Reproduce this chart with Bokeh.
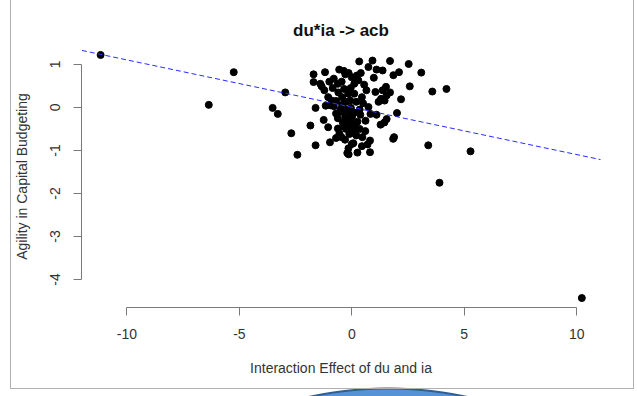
from bokeh.plotting import figure
from bokeh.models import FixedTicker, Slope
from bokeh.embed import file_html
from bokeh.resources import INLINE

# ---- data ----
interaction = [-11.17, -5.25, -6.36, -2.96, -3.52, -3.29, -2.69, -2.42, -1.84, -1.61,
               -1.61, 3.40, 5.28, 3.90, 10.23, 4.21, 3.58, 3.09, 2.58, 2.53,
               2.19, 2.01, 1.84, 1.88, 1.70, 2.10, 1.85, 0.92, 0.33, 0.74,
               1.10, 1.37, 0.98, 0.81, 0.25, -0.14, -0.20, -0.97, 0.07, 0.70,
               0.47, 0.81, -0.70, -0.46, -0.62, -1.05, -1.25, -1.70, -1.19, -1.70,
               -1.34, -1.22, -1.05, -0.89, -1.16, -0.80, -0.56, -0.29, -0.14, -0.80,
               -0.62, 0.22, 0.29, 0.11, 0.55, 0.65, 0.45, 0.11, -0.16, -0.34,
               -0.43, -0.25, -0.07, 0.20, 0.74, 0.83, 0.61, 1.10, 1.28, 1.55,
               1.46, 1.19, 1.55, 1.37, 1.52, 1.05, -0.46, -0.29, -0.16, -0.04,
               0.07, -0.11, -0.34, -0.62, -0.70, 0.02, 0.25, 0.38, -0.43, -0.04,
               -0.50, -0.30, -0.10, 0.10, -0.20, 0.00, -0.40, 0.15, -0.25, -0.05,
               0.20, -0.30, 0.00, -0.15, 0.35, 0.45, -0.55, -0.85, -1.00, -0.60,
               -0.70, -0.95, -1.40, -0.45, 0.00, 0.40, 0.50, 0.35, 1.30, 1.70,
               1.45, 0.60, -0.35, -0.05]
agility = [1.22, 0.82, 0.06, 0.35, -0.01, -0.15, -0.60, -1.10, -0.42, -0.88,
           -0.01, -0.88, -1.02, -1.75, -4.43, 0.43, 0.37, 0.81, 0.49, 1.01,
           0.19, -0.13, -0.73, -0.69, 1.08, 0.82, 0.75, 1.09, 1.07, 0.94,
           0.88, 0.86, 0.69, -1.04, -1.05, -1.09, -1.06, -0.81, -0.83, -0.86,
           -0.69, -0.77, -0.71, -0.69, -0.49, -0.46, -0.29, 0.77, 0.82, 0.59,
           0.49, 0.40, 0.24, 0.16, 0.04, 0.03, 0.88, 0.77, 0.80, 0.67,
           0.55, 0.74, 0.63, 0.55, 0.53, 0.40, 0.24, 0.32, 0.32, 0.43,
           0.24, 0.13, 0.16, 0.13, 0.01, -0.15, -0.31, -0.17, -0.40, -0.27,
           0.16, 0.13, 0.28, 0.40, 0.48, 0.36, -0.10, -0.22, -0.34, -0.45,
           -0.55, -0.62, -0.45, -0.25, -0.14, -0.20, -0.33, -0.17, 0.06, -0.01,
           -0.05, -0.05, -0.10, -0.12, -0.30, -0.35, -0.35, -0.45, -0.50, -0.60,
           -0.65, -0.75, -0.85, -0.95, -0.50, -0.90, -0.60, 0.45, 0.60, 0.35,
           0.15, 0.05, 0.55, 0.60, 0.70, 0.80, 0.10, -0.05, 0.20, 0.35,
           -0.35, -0.55, 0.85, 0.45]
fit_intercept = 0.005
fit_slope = -0.11
x_ticks = [-10, -5, 0, 5, 10]
y_ticks = [-4, -3, -2, -1, 0, 1]
title_text = "du*ia -> acb"
x_label = "Interaction Effect of du and ia"
y_label = "Agility in Capital Budgeting"

FONT = "Liberation Sans"
AXIS_COL = "#7a7a7a"
TEXT_COL = "#333333"

p = figure(width=637, height=396, output_backend="svg", toolbar_location=None,
           x_range=(-12.02, 11.06), y_range=(-4.65, 1.44),
           min_border_left=81, min_border_right=37, min_border_top=45,
           min_border_bottom=89, title=title_text)
p.outline_line_color = None
p.background_fill_color = None
p.border_fill_color = None
p.grid.visible = False

# slide decoration behind the chart: frame edges and part of a blue disc
p.styles = {
    "background": (
        "linear-gradient(#b0b0b0,#b0b0b0) 10px 0px / 1px 389px no-repeat, "
        "linear-gradient(#b0b0b0,#b0b0b0) 633px 0px / 1px 389px no-repeat, "
        "linear-gradient(#b0b0b0,#b0b0b0) 10px 388px / 624px 1px no-repeat, "
        "radial-gradient(circle 374px at 388px 761px, #5592d6 371px, #2f5d95 372px, "
        "#2f5d95 373px, rgba(255,255,255,0) 374px) 0px 0px / 637px 396px no-repeat, "
        "#ffffff"
    )
}

p.title.align = "center"
p.title.text_font = FONT
p.title.text_font_size = "17px"
p.title.text_font_style = "bold"
p.title.text_color = "#111111"
p.title.standoff = 11

for ax, ticks in ((p.xaxis[0], x_ticks), (p.yaxis[0], y_ticks)):
    ax.ticker = FixedTicker(ticks=ticks)
    ax.major_label_overrides = {t: str(t) for t in ticks}
    ax.bounds = (ticks[0], ticks[-1])
    ax.axis_line_color = AXIS_COL
    ax.major_tick_line_color = AXIS_COL
    ax.major_tick_out = 8
    ax.major_tick_in = 0
    ax.minor_tick_line_color = None
    ax.major_label_text_font = FONT
    ax.major_label_text_font_size = "14px"
    ax.major_label_text_color = TEXT_COL
    ax.axis_label_text_font = FONT
    ax.axis_label_text_font_size = "14px"
    ax.axis_label_text_font_style = "normal"
    ax.axis_label_text_color = TEXT_COL

p.xaxis.axis_label = x_label
p.xaxis.major_label_standoff = 13
p.xaxis.axis_label_standoff = 18

p.yaxis.axis_label = y_label
p.yaxis.major_label_orientation = "vertical"
p.yaxis.major_label_standoff = 13
p.yaxis.axis_label_standoff = 18

p.add_layout(Slope(gradient=fit_slope, y_intercept=fit_intercept,
                   line_color="#2b2bff", line_width=1, line_dash="5 3"))

p.scatter(interaction, agility, size=7, color="black")

open("out.html", "w").write(file_html(p, INLINE))
